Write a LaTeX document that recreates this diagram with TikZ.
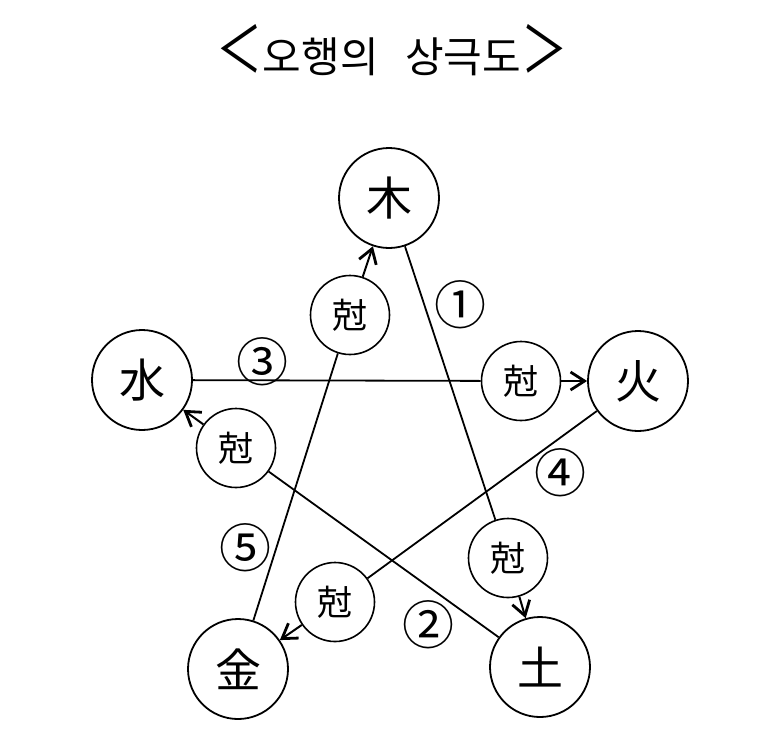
\documentclass[tikz,border=0pt]{standalone}
\usepackage{fontspec}
\newfontfamily\kr{Noto Sans CJK KR}
\usetikzlibrary{arrows.meta}
\begin{document}
\begin{tikzpicture}[x=1pt,y=-1pt]
\useasboundingbox[fill=white] (0,0) rectangle (770,753);
\tikzset{
 elem/.style={circle,draw,line width=1.8pt,minimum size=100pt,inner sep=0pt,font=\kr\fontsize{46}{46}\selectfont},
 keuk/.style={circle,draw,line width=1.6pt,minimum size=79pt,inner sep=0pt,font=\kr\fontsize{35}{35}\selectfont},
 link/.style={line width=1.8pt},
 arr/.style={line width=2pt,-{Straight Barb[length=14pt,width=18pt,line width=2.8pt]}},
 num/.style={font=\kr\fontsize{52}{52}\selectfont,inner sep=0pt},
 title/.style={font=\kr\fontsize{42}{42}\selectfont,inner sep=0pt}
}
\node[title] (t) at (392,50) {\scalebox{1.1}[1.5]{＜}오행의\hspace{0.4em} 상극도\scalebox{1.1}[1.5]{＞}};
\node[elem] (mok) at (389,198) {木};
\node[elem] (hwa) at (638,381) {火};
\node[elem] (su) at (142,380) {水};
\node[elem] (geum) at (238,669) {金};
\node[elem] (to) at (540,667) {土};
\node[keuk] (k1) at (350,315) {尅};
\node[keuk] (k2) at (521,381) {尅};
\node[keuk] (k3) at (236,448) {尅};
\node[keuk] (k4) at (508,558) {尅};
\node[keuk] (k5) at (335,602) {尅};
\draw[link] (mok) -- (k4); \draw[arr] (k4) -- (to);
\draw[link] (su) -- (k2); \draw[arr] (k2) -- (hwa);
\draw[link] (hwa) -- (k5); \draw[arr] (k5) -- (geum);
\draw[link] (geum) -- (k1); \draw[arr] (k1) -- (mok);
\draw[link] (to) -- (k3); \draw[arr] (k3) -- (su);
\node[num] (n1) at (460,305) {①};
\node[num] (n2) at (428,625) {②};
\node[num] (n3) at (262,362) {③};
\node[num] (n4) at (560,473) {④};
\node[num] (n5) at (245,548) {⑤};
\end{tikzpicture}
\end{document}
